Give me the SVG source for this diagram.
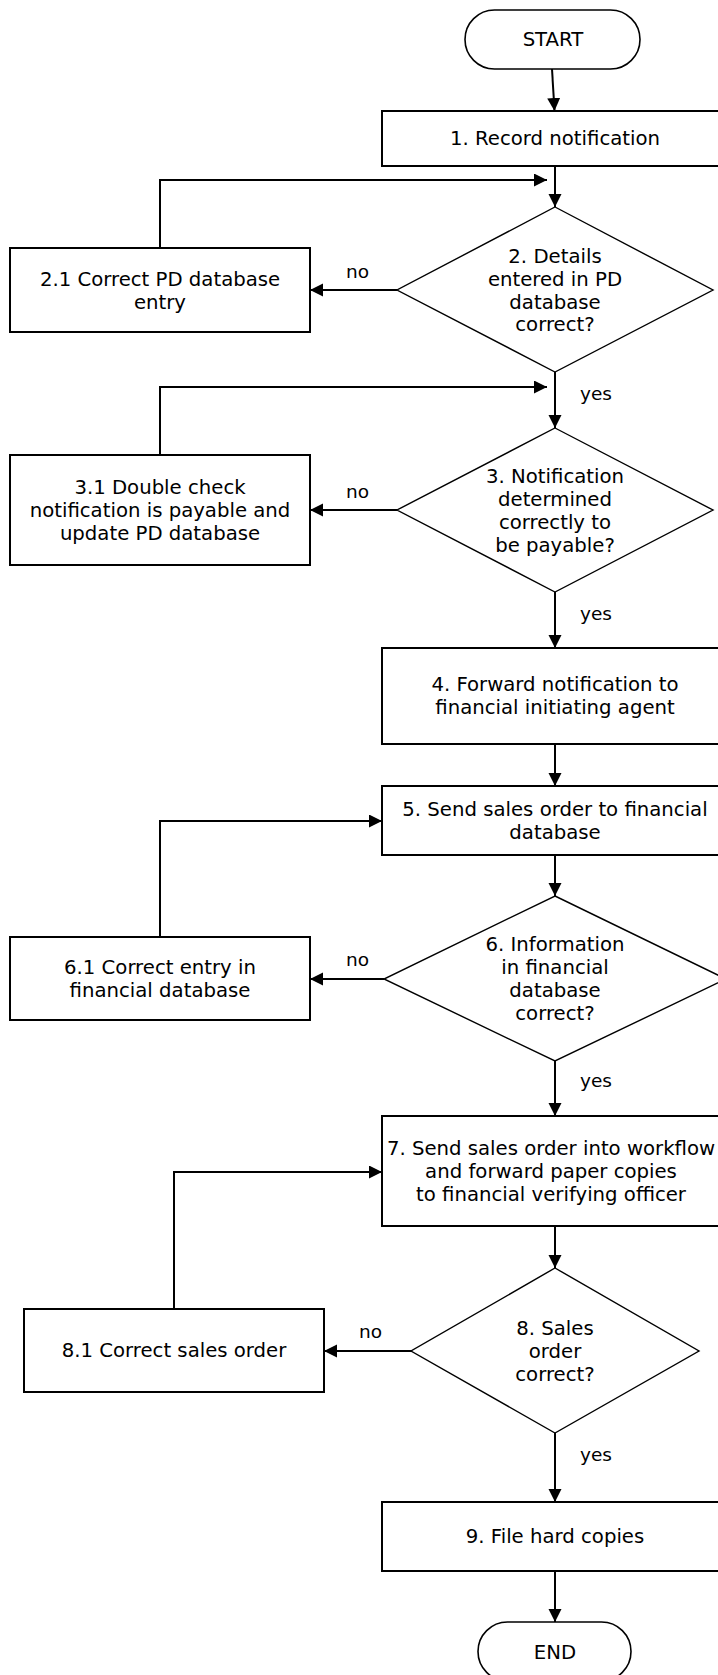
<svg xmlns="http://www.w3.org/2000/svg" width="718" height="1675" viewBox="0 0 718 1675">
<style>
  .box { fill: #fff; stroke: #000; stroke-width: 2; }
  .dia { fill: #fff; stroke: #000; stroke-width: 1.4; }
  .term { fill: #fff; stroke: #000; stroke-width: 1.6; }
  .t { font-family: "DejaVu Sans", Verdana, sans-serif; font-size: 19.7px; fill: #000; text-anchor: middle; }
  .lbl { font-family: "DejaVu Sans", Verdana, sans-serif; font-size: 18.5px; fill: #000; }
  .c { fill: none; stroke: #000; stroke-width: 2; marker-end: url(#ah); }
</style>
<defs>
  <marker id="ah" markerUnits="userSpaceOnUse" markerWidth="14" markerHeight="14" refX="13" refY="6.5" orient="auto">
    <path d="M0,0 L13,6.5 L0,13 z" fill="#000"/>
  </marker>
</defs>
<rect width="718" height="1675" fill="#fff"/>

<g id="connectors">
  <path class="c" d="M552,69 L554.5,111"/>
  <path class="c" d="M555,166 L555,207"/>
  <path class="c" d="M160,248 L160,180 L547,180"/>
  <path class="c" d="M397,290 L310,290"/>
  <path class="c" d="M555,372 L555,428"/>
  <path class="c" d="M160,455 L160,387 L547,387"/>
  <path class="c" d="M397,510 L310,510"/>
  <path class="c" d="M555,592 L555,648"/>
  <path class="c" d="M555,744 L555,786"/>
  <path class="c" d="M160,937 L160,821 L382,821"/>
  <path class="c" d="M555,855 L555,896"/>
  <path class="c" d="M384,979 L310,979"/>
  <path class="c" d="M555,1061 L555,1116"/>
  <path class="c" d="M174,1309 L174,1172 L382,1172"/>
  <path class="c" d="M555,1226 L555,1268"/>
  <path class="c" d="M411,1351 L324,1351"/>
  <path class="c" d="M555,1433 L555,1502"/>
  <path class="c" d="M555,1571 L555,1622"/>
  <text class="lbl" x="346" y="278">no</text>
  <text class="lbl" x="580" y="400">yes</text>
  <text class="lbl" x="346" y="498">no</text>
  <text class="lbl" x="580" y="620">yes</text>
  <text class="lbl" x="346" y="966">no</text>
  <text class="lbl" x="580" y="1087">yes</text>
  <text class="lbl" x="359" y="1338">no</text>
  <text class="lbl" x="580" y="1461">yes</text>
</g>

<g id="start">
  <rect class="term" x="465" y="10" width="175" height="59" rx="29.5"/>
  <text class="t" x="553" y="46">START</text>
</g>
<g id="n1">
  <rect class="box" x="382" y="111" width="346" height="55"/>
  <text class="t" x="555" y="145">1. Record notification</text>
</g>
<g id="n2">
  <polygon class="dia" points="555,207 713,290 555,372 397,290"/>
  <text class="t" x="555" y="263">2. Details</text>
  <text class="t" x="555" y="286">entered in PD</text>
  <text class="t" x="555" y="309">database</text>
  <text class="t" x="555" y="331">correct?</text>
</g>
<g id="n2_1">
  <rect class="box" x="10" y="248" width="300" height="84"/>
  <text class="t" x="160" y="286">2.1 Correct PD database</text>
  <text class="t" x="160" y="309">entry</text>
</g>
<g id="n3">
  <polygon class="dia" points="555,428 713,510 555,592 397,510"/>
  <text class="t" x="555" y="483">3. Notification</text>
  <text class="t" x="555" y="506">determined</text>
  <text class="t" x="555" y="529">correctly to</text>
  <text class="t" x="555" y="552">be payable?</text>
</g>
<g id="n3_1">
  <rect class="box" x="10" y="455" width="300" height="110"/>
  <text class="t" x="160" y="494">3.1 Double check</text>
  <text class="t" x="160" y="517">notification is payable and</text>
  <text class="t" x="160" y="540">update PD database</text>
</g>
<g id="n4">
  <rect class="box" x="382" y="648" width="346" height="96"/>
  <text class="t" x="555" y="691">4. Forward notification to</text>
  <text class="t" x="555" y="714">financial initiating agent</text>
</g>
<g id="n5">
  <rect class="box" x="382" y="786" width="346" height="69"/>
  <text class="t" x="555" y="816">5. Send sales order to financial</text>
  <text class="t" x="555" y="839">database</text>
</g>
<g id="n6">
  <polygon class="dia" points="555,896 726,979 555,1061 384,979"/>
  <text class="t" x="555" y="951">6. Information</text>
  <text class="t" x="555" y="974">in financial</text>
  <text class="t" x="555" y="997">database</text>
  <text class="t" x="555" y="1020">correct?</text>
</g>
<g id="n6_1">
  <rect class="box" x="10" y="937" width="300" height="83"/>
  <text class="t" x="160" y="974">6.1 Correct entry in</text>
  <text class="t" x="160" y="997">financial database</text>
</g>
<g id="n7">
  <rect class="box" x="382" y="1116" width="346" height="110"/>
  <text class="t" x="551" y="1155">7. Send sales order into workflow</text>
  <text class="t" x="551" y="1178">and forward paper copies</text>
  <text class="t" x="551" y="1201">to financial verifying officer</text>
</g>
<g id="n8">
  <polygon class="dia" points="555,1268 699,1351 555,1433 411,1351"/>
  <text class="t" x="555" y="1335">8. Sales</text>
  <text class="t" x="555" y="1358">order</text>
  <text class="t" x="555" y="1381">correct?</text>
</g>
<g id="n8_1">
  <rect class="box" x="24" y="1309" width="300" height="83"/>
  <text class="t" x="174" y="1357">8.1 Correct sales order</text>
</g>
<g id="n9">
  <rect class="box" x="382" y="1502" width="346" height="69"/>
  <text class="t" x="555" y="1543">9. File hard copies</text>
</g>
<g id="end">
  <rect class="term" x="478" y="1622" width="153" height="59" rx="29.5"/>
  <text class="t" x="555" y="1659">END</text>
</g>
</svg>
